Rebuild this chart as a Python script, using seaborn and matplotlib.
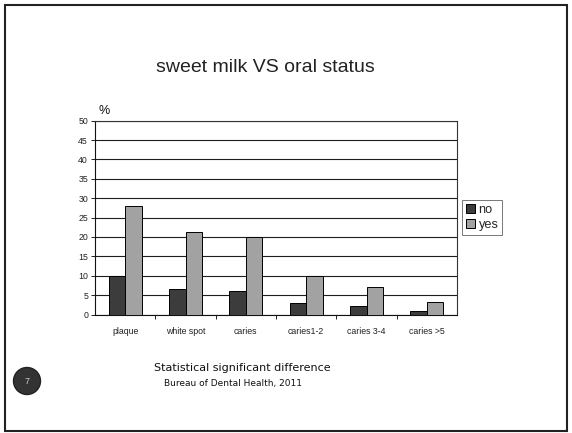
import matplotlib
matplotlib.use("Agg")
import matplotlib.pyplot as plt
import seaborn as sns
import pandas as pd
from matplotlib.patches import Rectangle, Ellipse

categories = ["plaque", "white spot", "caries", "caries1-2", "caries 3-4", "caries >5"]
no_values = [9.9, 6.6, 6.0, 3.0, 2.2, 0.8]
yes_values = [28.1, 21.4, 19.9, 10.0, 7.0, 3.3]
series_names = ["no", "yes"]
y_ticks = [0, 5, 10, 15, 20, 25, 30, 35, 40, 45, 50]

df = pd.DataFrame({
    "category": categories * 2,
    "value": no_values + yes_values,
    "series": [series_names[0]] * len(categories) + [series_names[1]] * len(categories),
})

sns.set_style("white")
plt.rcParams["font.family"] = ["Liberation Sans", "DejaVu Sans"]

W, H = 572, 433
fig = plt.figure(figsize=(W / 100, H / 100), dpi=100)
ax = fig.add_axes([95 / W, 1 - 314.5 / H, (457 - 95) / W, (314.5 - 120.7) / H])

sns.barplot(data=df, x="category", y="value", hue="series", order=categories,
            hue_order=series_names, palette=["#3c3c3c", "#a2a2a2"], width=0.55,
            edgecolor="black", linewidth=0.7, saturation=1, ax=ax, legend=True, zorder=3)

ax.set_ylim(0, 50)
ax.set_xlim(-0.5, len(categories) - 0.5)
ax.set_yticks(y_ticks)
ax.yaxis.grid(True, color="#1e1e1e", linewidth=0.8, zorder=0)
ax.set_axisbelow(True)
ax.set_xlabel("")
ax.set_ylabel("")
for s in ax.spines.values():
    s.set_visible(True)
    s.set_color("#333333")
    s.set_linewidth(0.8)
ax.spines["left"].set_color("#111111")
ax.spines["bottom"].set_color("#111111")
ax.tick_params(axis="y", which="major", length=3, width=0.7, color="#222222",
               labelsize=6.3, labelcolor="#222222", pad=2, left=True)
ax.tick_params(axis="x", which="major", length=0, labelsize=6.3, labelcolor="#222222", pad=9)
ax.set_xticks([i - 0.5 for i in range(1, len(categories))], minor=True)
ax.tick_params(axis="x", which="minor", length=3, width=0.7, color="#222222", bottom=True)

ax.text(0.01, 1.02, "%", transform=ax.transAxes, fontsize=9,
        ha="left", va="bottom", color="#111111")

handles, labels = ax.get_legend_handles_labels()
ax.legend(handles, labels, loc="center left",
          bbox_to_anchor=((462 - 95) / (457 - 95), (314.5 - 217.5) / (314.5 - 120.7)),
          frameon=True, fancybox=False, edgecolor="#555555", fontsize=9.2,
          handlelength=0.7, handleheight=0.7, handletextpad=0.3, borderpad=0.3,
          labelspacing=0.25, borderaxespad=0)
ax.get_legend().get_frame().set_linewidth(0.7)

fig.text(265 / W, 1 - 68 / H, "sweet milk VS oral status", fontsize=14,
         ha="center", va="center", color="#222222")
fig.text(242 / W, 1 - 368 / H, "Statistical significant difference", fontsize=8,
         ha="center", va="center", color="#111111", family=["DejaVu Sans"])
fig.text(233 / W, 1 - 383.5 / H, "Bureau of Dental Health, 2011", fontsize=6.5,
         ha="center", va="center", color="#111111", family=["DejaVu Sans"])

fig.patches.append(Rectangle((5 / W, 1 - 431 / H), (567 - 5) / W, (431 - 5) / H,
                             transform=fig.transFigure, fill=False, edgecolor="#222222",
                             linewidth=1.5))
fig.patches.append(Ellipse((27 / W, 1 - 381 / H), 27 / W, 27 / H, transform=fig.transFigure,
                           facecolor="#333333", edgecolor="#222222"))
fig.text(27 / W, 1 - 381 / H, "7", fontsize=6.5, ha="center", va="center", color="#cccccc")

fig.savefig("out.png", dpi=100)
